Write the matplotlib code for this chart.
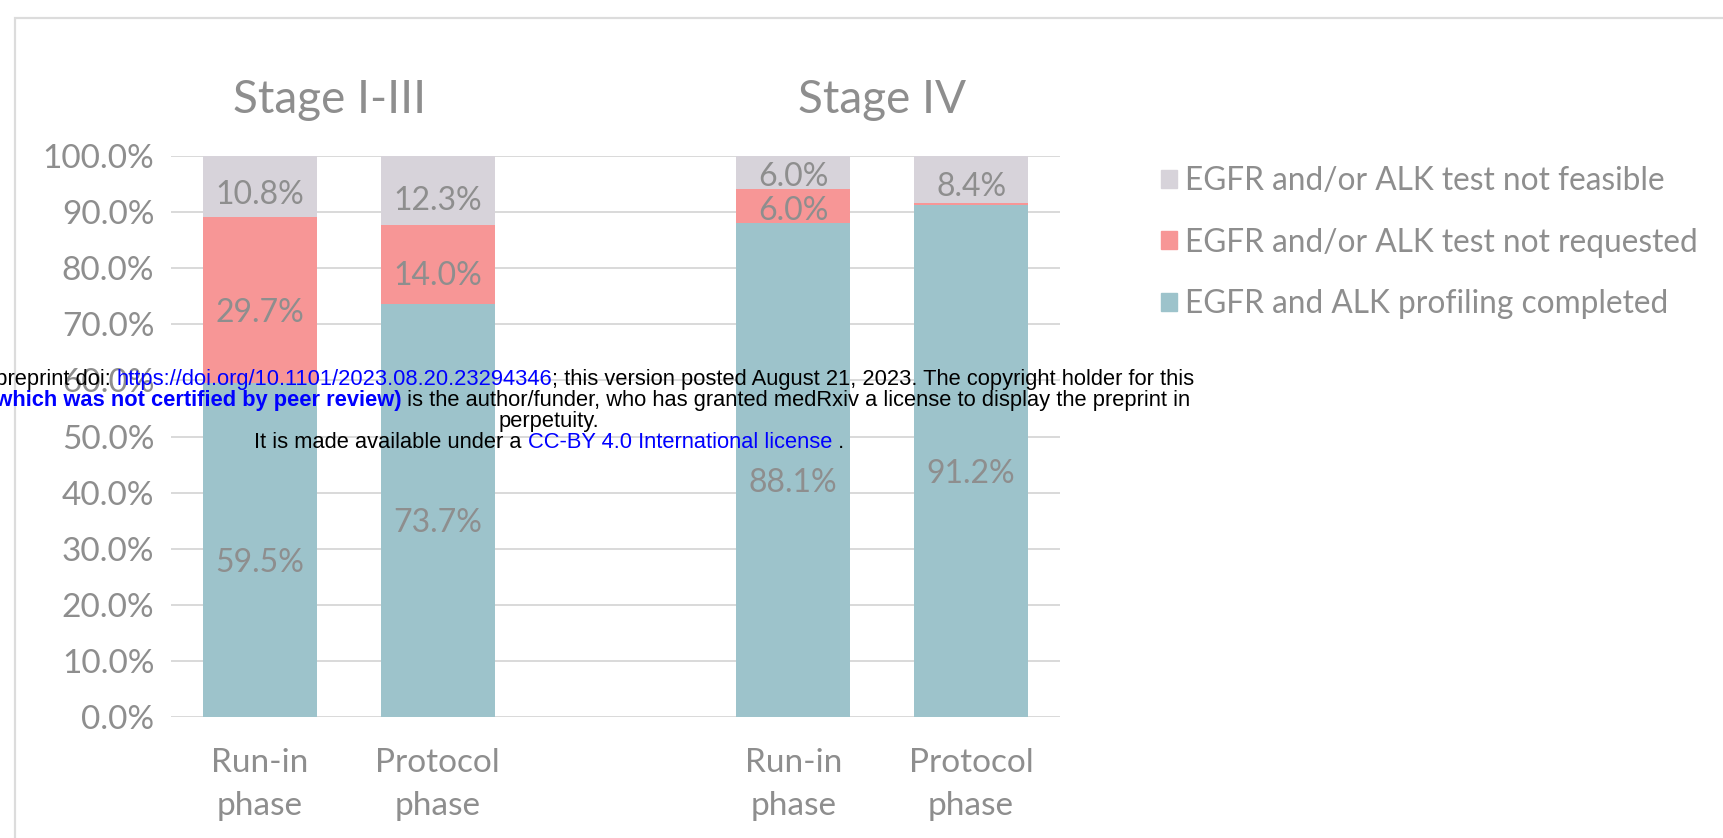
import matplotlib
matplotlib.use("Agg")
import matplotlib.pyplot as plt
from matplotlib.patches import Patch, Rectangle

# data (percent of patients)
phases = ["Run-in\nphase", "Protocol\nphase", "Run-in\nphase", "Protocol\nphase"]
x_pos = [0, 1, 3, 4]
stages = ["Stage I-III", "Stage IV"]
stage_x = [0.39, 3.5]
completed = [59.5, 73.7, 88.1, 91.2]
not_requested = [29.7, 14.0, 6.0, 0.4]
not_feasible = [10.8, 12.3, 6.0, 8.4]
show_req_label = [True, True, True, False]
legend_labels = ["EGFR and/or ALK test not feasible",
                 "EGFR and/or ALK test not requested",
                 "EGFR and ALK profiling completed"]

teal = "#9dc3cb"
red = "#f79696"
grey = "#d7d3da"
txt = "#8e8e8e"

W, H = 1723, 838
plt.rcParams['font.family'] = ['Lato', 'DejaVu Sans']
fig = plt.figure(figsize=(W / 100, H / 100), dpi=100)
ax = fig.add_axes([171 / W, 121 / H, 889 / W, 561 / H])

bw = 0.64
bottom2 = [a + b for a, b in zip(completed, not_requested)]
ax.bar(x_pos, completed, bw, color=teal, zorder=2)
ax.bar(x_pos, not_requested, bw, bottom=completed, color=red, zorder=2)
ax.bar(x_pos, not_feasible, bw, bottom=bottom2, color=grey, zorder=2)

lab = dict(ha='center', va='center', color=txt, fontsize=23, zorder=3)


def put_label(x, base, h):
    # excel places the labels a little below the middle of the segment
    ax.text(x, base + h / 2 - min(2.3, 0.15 * h), "%.1f%%" % h, **lab)


for i, x in enumerate(x_pos):
    put_label(x, 0, completed[i])
    if show_req_label[i]:
        put_label(x, completed[i], not_requested[i])
    put_label(x, bottom2[i], not_feasible[i])

for s, sx in zip(stages, stage_x):
    ax.text(sx, 110, s, ha='center', va='center', color=txt, fontsize=33, clip_on=False)

ax.set_xlim(-0.5, 4.5)
ax.set_ylim(0, 100)
ax.set_yticks(range(0, 101, 10))
ax.set_yticklabels(["%.1f%%" % v for v in range(0, 101, 10)])
ax.set_xticks(x_pos)
ax.set_xticklabels(phases, linespacing=1.57)
ax.tick_params(axis='y', length=0, pad=12, labelsize=24, labelcolor=txt)
ax.tick_params(axis='x', length=0, pad=22, labelsize=24, labelcolor=txt)
ax.yaxis.grid(True, color="#d9d9d9", linewidth=1.4, zorder=0)
ax.set_axisbelow(True)
for sp in ax.spines.values():
    sp.set_visible(False)

handles = [Patch(color=grey), Patch(color=red), Patch(color=teal)]
leg = fig.legend(handles, legend_labels, loc='upper left', bbox_to_anchor=(1161 / W, 1 - 166 / H),
                 frameon=False, fontsize=22.8, handlelength=0.5, handleheight=0.5,
                 handletextpad=0.25, labelspacing=1.0, borderpad=0, borderaxespad=0)
for t in leg.get_texts():
    t.set_color(txt)

# outer frame of the pasted figure
fig.patches.append(Rectangle((15 / W, -0.1), 1.2, 1.1 - 18 / H, transform=fig.transFigure,
                             fill=False, edgecolor="#dcdcdc", linewidth=1.6))

# medRxiv watermark
wm = dict(fontsize=15.75, family=['Liberation Sans', 'DejaVu Sans'], va='baseline', ha='left', zorder=10)
blue = "#0000ff"
lines = [
    (385, [("medRxiv preprint doi: ", "black", False),
           ("https://doi.org/10.1101/2023.08.20.23294346", blue, False),
           ("; this version posted August 21, 2023. The copyright holder for this", "black", False)]),
    (406, [("preprint ", "black", False),
           ("(which was not certified by peer review)", blue, True),
           (" is the author/funder, who has granted medRxiv a license to display the preprint in", "black", False)]),
    (427, [("perpetuity.", "black", False)]),
    (448, [("It is made available under a ", "black", False),
           ("CC-BY 4.0 International license", blue, False),
           (" .", "black", False)]),
]
fig.canvas.draw()
r = fig.canvas.get_renderer()


def advance(s, bold):
    t = fig.text(0, 0, s + "|", fontweight='bold' if bold else 'normal', **wm)
    w = t.get_window_extent(r).width
    t.set_text("|")
    w -= t.get_window_extent(r).width
    t.remove()
    return w


cx = 549
for y, segs in lines:
    widths = [advance(s, b) for s, c, b in segs]
    x = cx - sum(widths) / 2
    for (s, c, b), w in zip(segs, widths):
        fig.text(x / W, 1 - y / H, s, color=c, fontweight='bold' if b else 'normal', **wm)
        x += w

fig.savefig("out.png", dpi=100)
